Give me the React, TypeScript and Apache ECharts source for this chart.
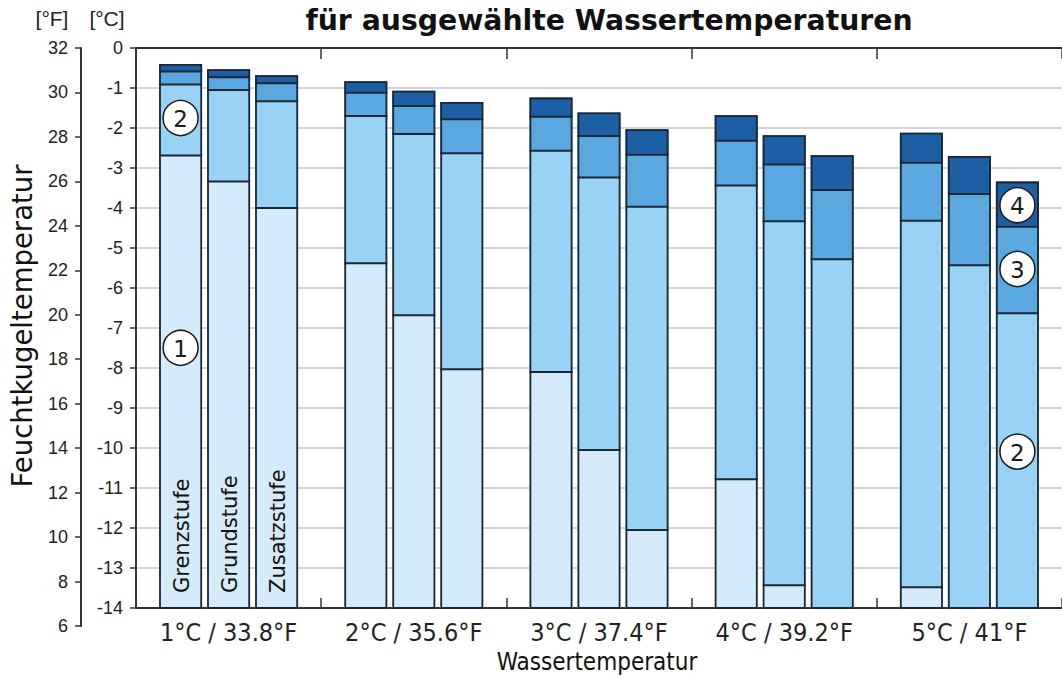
import React, { useEffect, useRef } from 'react';
import * as echarts from 'echarts';

// Categories (water temperature)
const categories = ['1°C / 33.8°F', '2°C / 35.6°F', '3°C / 37.4°F', '4°C / 39.2°F', '5°C / 41°F'];
const stageNames = ['Grenzstufe', 'Grundstufe', 'Zusatzstufe'];

// Axis ranges
const celsiusMin = -14;
const celsiusMax = 0;
const fahrenheitMin = 6;
const fahrenheitMax = 32;

// Segment boundaries in °C (bottom of each bar is celsiusMin)
// Grenzstufe
const grenzB12 = [-2.69, -5.38, -8.1, -10.78, -13.48];
const grenzB23 = [-0.91, -1.7, -2.57, -3.44, -4.32];
const grenzB34 = [-0.59, -1.12, -1.72, -2.32, -2.87];
const grenzTop = [-0.4, -0.83, -1.24, -1.68, -2.12];
// Grundstufe
const grundB12 = [-3.34, -6.68, -10.05, -13.43, -14];
const grundB23 = [-1.05, -2.15, -3.24, -4.33, -5.43];
const grundB34 = [-0.73, -1.45, -2.2, -2.91, -3.65];
const grundTop = [-0.53, -1.07, -1.61, -2.18, -2.7];
// Zusatzstufe
const zusatzB12 = [-4.0, -8.03, -12.05, -14, -14];
const zusatzB23 = [-1.33, -2.63, -3.97, -5.28, -6.63];
const zusatzB34 = [-0.88, -1.78, -2.67, -3.55, -4.47];
const zusatzTop = [-0.68, -1.35, -2.03, -2.68, -3.34];

// circled annotations: [stage, segment (0..3), category, text, dy]
const annotations: [number, number, number, string, number][] = [
  [0, 0, 0, '1', -34],
  [0, 1, 0, '2', -2],
  [2, 1, 4, '2', -9],
  [2, 2, 4, '3', -1],
  [2, 3, 4, '4', 1],
];

const segColors = ['#d3ebfa', '#98d3f6', '#5aa8e0', '#1d5fa5'];
const borderCol = '#1b2735';
const BAR_W = 43;
const BAR_STEP = 48;

export default function App() {
  const ref = useRef<HTMLDivElement>(null);
  useEffect(() => {
    document.body.style.margin = '0';
    const chart = echarts.init(ref.current!, null, { renderer: 'svg' });

    const stageArrays = [
      [grenzB12, grenzB23, grenzB34, grenzTop],
      [grundB12, grundB23, grundB34, grundTop],
      [zusatzB12, zusatzB23, zusatzB34, zusatzTop],
    ];
    // data item: [categoryIndex, 12 boundaries (as height above axis min)]
    const data = categories.map((_, c) => {
      const row: number[] = [c];
      stageArrays.forEach((arrs) => arrs.forEach((a) => row.push(a[c] - celsiusMin)));
      return row;
    });

    const renderItem = (params: any, api: any) => {
      const c = api.value(0);
      const base = api.coord([c, 0]);
      const cx = base[0];
      const yBottom = base[1];
      const children: any[] = [];
      for (let s = 0; s < 3; s++) {
        const left = cx + (s - 1) * BAR_STEP - BAR_W / 2;
        const ys = [yBottom];
        for (let k = 0; k < 4; k++) ys.push(api.coord([c, api.value(1 + s * 4 + k)])[1]);
        // fills
        for (let k = 0; k < 4; k++) {
          const h = ys[k] - ys[k + 1];
          if (h <= 0) continue;
          children.push({
            type: 'rect',
            shape: { x: left, y: ys[k + 1], width: BAR_W, height: h },
            style: { fill: segColors[k] },
          });
        }
        // separators
        for (let k = 1; k < 4; k++) {
          if (ys[k] >= yBottom - 0.5) continue;
          children.push({
            type: 'line',
            shape: { x1: left, y1: ys[k], x2: left + BAR_W, y2: ys[k] },
            style: { stroke: borderCol, lineWidth: 2 },
          });
        }
        // outline
        children.push({
          type: 'rect',
          shape: { x: left + 0.9, y: ys[4] + 0.9, width: BAR_W - 1.8, height: yBottom - ys[4] - 0.9 },
          style: { fill: 'none', stroke: borderCol, lineWidth: 1.8 },
        });
        // stage names in the first group
        if (c === 0) {
          children.push({
            type: 'text',
            x: left + BAR_W / 2 + 1,
            y: yBottom - 15,
            rotation: Math.PI / 2,
            style: {
              text: stageNames[s],
              fontSize: 21,
              fontFamily: 'DejaVu Sans',
              fill: '#111',
              align: 'left',
              verticalAlign: 'middle',
            },
          });
        }
        // circled numbers
        annotations.forEach((a) => {
          if (a[0] !== s || a[2] !== c) return;
          const k = a[1];
          const cy = (ys[k] + ys[k + 1]) / 2 + a[4];
          const ccx = left + BAR_W / 2;
          children.push({
            type: 'circle',
            shape: { cx: ccx, cy, r: 17.5 },
            style: { fill: '#ffffff', stroke: '#1a1a1a', lineWidth: 1.5 },
          });
          children.push({
            type: 'text',
            x: ccx,
            y: cy + 1,
            style: {
              text: a[3],
              fontSize: 23,
              fontFamily: 'DejaVu Sans',
              fill: '#1a1a1a',
              align: 'center',
              verticalAlign: 'middle',
            },
          });
        });
      }
      return { type: 'group', children };
    };

    const axisLineStyle = { color: '#333', width: 2 };

    const option: any = {
      animation: false,
      grid: [
        { left: 136, top: 48, width: 940, height: 560 },
        { left: 81, top: 48, width: 10, height: 578 },
      ],
      xAxis: [
        {
          type: 'category',
          gridIndex: 0,
          data: categories,
          position: 'bottom',
          axisLine: { show: true, lineStyle: axisLineStyle },
          axisTick: { show: true, inside: true, length: 10, lineStyle: { color: '#333', width: 1.5 } },
          axisLabel: {
            interval: 0,
            hideOverlap: false,
            fontSize: 25,
            fontFamily: 'DejaVu Sans Condensed, DejaVu Sans',
            color: '#222',
            margin: 12,
          },
        },
        {
          type: 'category',
          gridIndex: 0,
          data: categories,
          position: 'top',
          axisLine: { show: true, lineStyle: axisLineStyle },
          axisTick: { show: true, inside: true, length: 11, lineStyle: { color: '#333', width: 1.5 } },
          axisLabel: { show: false },
        },
        { type: 'value', gridIndex: 1, show: false },
      ],
      yAxis: [
        {
          type: 'value',
          gridIndex: 0,
          min: 0,
          max: celsiusMax - celsiusMin,
          interval: 1,
          axisLine: { show: true, lineStyle: axisLineStyle },
          axisTick: { show: true, inside: false, length: 6, lineStyle: { color: '#333', width: 1.5 } },
          axisLabel: {
            fontSize: 18,
            fontFamily: 'Liberation Sans',
            color: '#222',
            margin: 13,
            formatter: (v: number) => String(v + celsiusMin),
          },
          splitLine: { show: true, lineStyle: { color: '#d6d6d6', width: 2 } },
        },
        {
          type: 'value',
          gridIndex: 1,
          min: fahrenheitMin,
          max: fahrenheitMax,
          interval: 2,
          axisLine: { show: true, lineStyle: axisLineStyle },
          axisTick: { show: true, inside: false, length: 6, lineStyle: { color: '#333', width: 1.5 } },
          axisLabel: { fontSize: 18, fontFamily: 'Liberation Sans', color: '#222', margin: 13 },
          splitLine: { show: false },
        },
      ],
      graphic: [
        {
          type: 'text',
          x: 609,
          y: 20,
          style: {
            text: 'für ausgewählte Wassertemperaturen',
            fontSize: 28.3,
            fontWeight: 'bold',
            fontFamily: 'DejaVu Sans',
            fill: '#111',
            align: 'center',
            verticalAlign: 'middle',
          },
        },
        {
          type: 'text',
          x: 52,
          y: 18,
          style: { text: '[°F]', fontSize: 21, fontFamily: 'Liberation Sans', fill: '#222', align: 'center', verticalAlign: 'middle' },
        },
        {
          type: 'text',
          x: 107,
          y: 18,
          style: { text: '[°C]', fontSize: 21, fontFamily: 'Liberation Sans', fill: '#222', align: 'center', verticalAlign: 'middle' },
        },
        {
          type: 'text',
          x: 22,
          y: 326,
          rotation: Math.PI / 2,
          style: { text: 'Feuchtkugeltemperatur', fontSize: 27.5, fontFamily: 'DejaVu Sans', fill: '#111', align: 'center', verticalAlign: 'middle' },
        },
        {
          type: 'text',
          x: 597,
          y: 662,
          style: { text: 'Wassertemperatur', fontSize: 24, fontFamily: 'DejaVu Sans Condensed, DejaVu Sans', fill: '#111', align: 'center', verticalAlign: 'middle' },
        },
      ],
      series: [
        {
          type: 'custom',
          xAxisIndex: 0,
          yAxisIndex: 0,
          renderItem,
          encode: { x: 0, y: [1, 2, 3, 4, 5, 6, 7, 8, 9, 10, 11, 12] },
          data,
          z: 5,
        },
      ],
    };
    chart.setOption(option);

    return () => chart.dispose();
  }, []);
  return <div ref={ref} style={{ width: 1062, height: 679 }} />;
}
